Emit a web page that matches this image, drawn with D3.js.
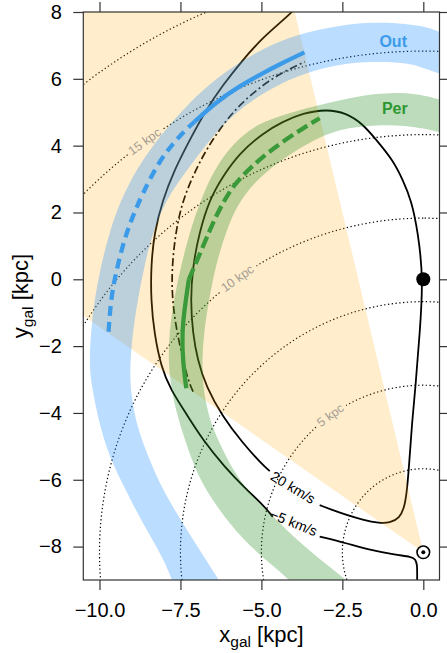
<!DOCTYPE html>
<html>
<head>
<meta charset="utf-8">
<script src="https://cdn.jsdelivr.net/npm/d3@7"></script>
<style>
  body { margin: 0; background: #fff; }
  svg text { font-family: "Liberation Sans", Arial, sans-serif; }
</style>
</head>
<body>
<svg id="chart" width="447" height="653"></svg>
<script>
// ---- data (kpc, galactic x/y) ----
var xDomain = [-10.5, 0.5];
var yDomain = [-9, 8];
var xTicks = [-10, -7.5, -5, -2.5, 0];
var yTicks = [-8, -6, -4, -2, 0, 2, 4, 6, 8];

var sunPos = [0, -8.17];
var gcPos = [0, 0];

// wedge edges, degrees from the Sun->GC direction towards -x
var wedgeAngles = [13.8, 56];

// distance rings round the Sun
var ringRadii = [2.5, 5, 7.5, 10, 12.5, 15, 17.5];
var ringLabelRadii = [5, 10, 15];
var ringLabelAngle = 35;

// Outer arm band, two edges
var outEdgeA = [[-7.55,-9.5],[-7.74,-9.05],[-8.05,-8.30],[-8.67,-7.30],[-9.19,-6.31],[-9.70,-5.31],
  [-10.01,-4.31],[-10.22,-3.31],[-10.32,-2.62],[-10.27,-1.61],[-10.16,-0.62],[-9.96,0.38],
  [-9.70,1.39],[-9.35,2.37],[-8.80,3.40],[-8.10,4.33],[-7.43,5.07],[-6.71,5.76],[-5.89,6.36],
  [-4.96,6.91],[-3.93,7.33],[-2.58,7.60],[-1.55,7.70],[-0.51,7.65],[0.11,7.55],[0.52,7.40],[0.9,7.2]];
var outEdgeB = [[0.9,6.0],[0.52,6.15],[-0.15,6.38],[-0.51,6.47],[-1.55,6.52],[-2.58,6.45],
  [-3.93,6.10],[-4.96,5.57],[-5.68,5.07],[-6.20,4.61],[-6.71,4.02],[-7.23,3.36],[-7.68,2.75],
  [-8.02,2.20],[-8.36,1.39],[-8.62,0.38],[-8.82,-0.62],[-8.98,-1.61],[-9.06,-2.62],[-9.04,-3.31],
  [-8.88,-4.31],[-8.50,-5.31],[-8.05,-6.31],[-7.43,-7.30],[-6.81,-8.25],[-6.29,-9.03],[-6.00,-9.5]];

// Perseus arm band, two edges
var perEdgeA = [[-3.65,-9.5],[-4.12,-9.00],[-4.74,-8.50],[-5.57,-7.80],[-6.39,-6.81],[-7.01,-5.81],
  [-7.36,-4.81],[-7.62,-4.01],[-7.82,-3.10],[-7.88,-2.20],[-7.82,-1.40],[-7.68,-0.50],[-7.48,0.40],
  [-7.22,1.40],[-6.90,2.30],[-6.55,3.10],[-6.10,3.80],[-5.55,4.35],[-4.96,4.72],[-3.93,5.05],
  [-2.58,5.36],[-1.55,5.56],[-0.51,5.61],[0.52,5.39],[0.9,5.25]];
var perEdgeB = [[0.9,4.3],[0.52,4.41],[-0.51,4.61],[-1.55,4.62],[-2.58,4.50],[-3.20,4.25],
  [-3.93,3.87],[-4.96,3.17],[-5.68,2.37],[-6.09,1.45],[-6.40,0.45],[-6.61,-0.55],[-6.78,-1.61],
  [-6.84,-2.62],[-6.78,-3.40],[-6.60,-4.21],[-6.30,-4.90],[-5.88,-5.71],[-5.36,-6.41],[-4.74,-7.00],
  [-4.02,-7.70],[-3.30,-8.30],[-2.37,-9.00],[-1.80,-9.5]];

// arm tracers
var blueDashed = [[-9.72,-1.57],[-9.65,-0.62],[-9.50,0.18],[-9.24,1.18],[-8.98,1.87],[-8.70,2.50],
  [-8.15,3.57],[-7.50,4.33],[-7.06,4.72]];
var blueSolid = [[-7.06,4.72],[-6.40,5.30],[-5.68,5.78],[-4.96,6.17],[-4.34,6.48],[-3.67,6.79]];
var greenSolid = [[-7.32,-3.26],[-7.43,-2.42],[-7.45,-1.62],[-7.38,-0.92],[-7.24,0.0]];
var greenDashed = [[-7.24,0.0],[-6.76,1.08],[-6.45,1.80],[-6.14,2.37],[-5.85,2.82],[-5.40,3.28],
  [-4.96,3.67],[-4.34,4.12],[-3.72,4.52],[-3.20,4.82]];
var dashDot = [[-7.11,-3.36],[-7.27,-3.01],[-7.47,-2.21],[-7.68,-1.22],[-7.78,-0.22],[-7.73,0.78],
  [-7.58,1.77],[-7.38,2.47],[-7.08,3.17],[-6.71,3.87],[-6.20,4.62],[-5.68,5.22],[-4.96,5.82],
  [-4.34,6.20],[-3.66,6.51]];

// velocity contours (split where the labels sit)
var contour20 = [[-3.20,-6.76],[-2.79,-6.91],[-2.38,-7.05],[-1.87,-7.20],[-1.35,-7.30],[-1.04,-7.29],
  [-0.73,-7.15],[-0.58,-6.81],[-0.50,-6.31],[-0.42,-5.31],[-0.35,-4.30],[-0.24,-3.21],[-0.11,-1.61],
  [0,0],[-0.16,1.39],[-0.37,2.37],[-0.63,2.97],[-0.94,3.57],[-1.45,4.17],[-1.87,4.65],[-2.38,4.98],
  [-3.00,5.09],[-3.72,4.97],[-4.34,4.72],[-4.96,4.37],[-5.68,3.77],[-6.20,3.07],[-6.61,2.37],
  [-6.92,1.39],[-7.12,0.38],[-7.19,-0.62],[-7.12,-1.61],[-6.97,-2.42],[-6.71,-3.21],[-6.20,-4.11],
  [-5.58,-4.90],[-4.96,-5.56],[-4.74,-5.74]];
var contour5a = [[-3.9,8.2],[-4.03,8.0],[-4.96,7.24],[-5.58,6.56],[-6.20,5.80],[-6.71,5.07],[-7.20,4.20],
  [-7.69,3.27],[-8.05,2.37],[-8.31,1.39],[-8.41,0.38],[-8.41,-0.62],[-8.31,-1.61],[-8.10,-2.62],
  [-7.80,-3.31],[-7.33,-4.01],[-6.81,-4.81],[-6.14,-5.61],[-5.52,-6.24],[-4.90,-6.80],[-4.65,-7.11]];
var contour5b = [[-3.20,-7.70],[-2.37,-7.90],[-1.66,-8.10],[-0.84,-8.25],[-0.37,-8.30],[-0.24,-8.38],
  [-0.19,-8.55],[-0.19,-8.8],[-0.19,-9.2]];

var contourLabels = ["20 km/s", "\u22125 km/s"];
var contourLabelPos = [[-4.02,-6.23],[-4.00,-7.28]];
var contourLabelRot = [31, 22];

var armNames = ["Out", "Per"];
var armLabelPos = [[-0.93,7.12],[-0.88,5.11]];

// ---- chart ----
var W = 447, H = 653;
var margin = {left: 83.3, right: 7.5, top: 12, bottom: 73};
var svg = d3.select("#chart");

var x = d3.scaleLinear().domain(xDomain).range([margin.left, W - margin.right]);
var y = d3.scaleLinear().domain(yDomain).range([H - margin.bottom, margin.top]);

svg.append("defs").append("clipPath").attr("id", "plotClip")
  .append("rect")
  .attr("x", x(xDomain[0])).attr("y", y(yDomain[1]))
  .attr("width", x(xDomain[1]) - x(xDomain[0]))
  .attr("height", y(yDomain[0]) - y(yDomain[1]));

var plot = svg.append("g").attr("clip-path", "url(#plotClip)");

// traced points are a bit noisy, so a B-spline through them
var smooth = d3.line().x(function(d){ return x(d[0]); }).y(function(d){ return y(d[1]); })
  .curve(d3.curveBasis);
var straight = d3.line().x(function(d){ return x(d[0]); }).y(function(d){ return y(d[1]); });

function band(a, b) {
  return smooth(a) + smooth(b).replace(/^M/, "L") + "Z";
}

// rings round the Sun, with a gap where the label goes
function ringPt(r, a) {
  var rad = a * Math.PI / 180;
  return [sunPos[0] - r * Math.sin(rad), sunPos[1] + r * Math.cos(rad)];
}
var ringG = plot.append("g");
var labelG = svg.append("g").attr("clip-path", "url(#plotClip)");

ringRadii.forEach(function(r) {
  var gap = 0;
  if (ringLabelRadii.indexOf(r) >= 0) {
    var p = ringPt(r, ringLabelAngle);
    var p1 = ringPt(r, ringLabelAngle - 0.5), p2 = ringPt(r, ringLabelAngle + 0.5);
    var ang = Math.atan2(y(p1[1]) - y(p2[1]), x(p1[0]) - x(p2[0])) * 180 / Math.PI;
    if (ang > 90) ang -= 180;
    if (ang < -90) ang += 180;
    var t = labelG.append("text")
      .attr("transform", "translate(" + x(p[0]) + "," + y(p[1]) + ") rotate(" + ang + ")")
      .attr("text-anchor", "middle")
      .attr("dominant-baseline", "central")
      .attr("font-size", 12.5)
      .attr("fill", "#a69d93")
      .text(r + " kpc");
    var len = t.node().getComputedTextLength();
    var rpx = Math.hypot(x(p[0]) - x(sunPos[0]), y(p[1]) - y(sunPos[1]));
    gap = (len / 2 + 3) / rpx * 180 / Math.PI;
  }
  var pts = d3.range(0, 360.01, 0.5).map(function(a) {
    return {p: ringPt(r, a), on: gap === 0 || Math.abs(a - ringLabelAngle) > gap};
  });
  ringG.append("path")
    .attr("d", d3.line().defined(function(d){ return d.on; })
      .x(function(d){ return x(d.p[0]); }).y(function(d){ return y(d.p[1]); })(pts))
    .attr("fill", "none")
    .attr("stroke", "#000")
    .attr("stroke-width", 1.2)
    .attr("stroke-dasharray", "1.3,2.5");
});

// velocity contours and the dash-dot track
[contour20, contour5a, contour5b].forEach(function(c) {
  plot.append("path").attr("d", smooth(c))
    .attr("fill", "none").attr("stroke", "#000").attr("stroke-width", 1.8);
});
plot.append("path").attr("d", smooth(dashDot))
  .attr("fill", "none").attr("stroke", "#000").attr("stroke-width", 1.7)
  .attr("stroke-dasharray", "8,3,2,3");

// observing wedge from the Sun
var wedge = [sunPos].concat(wedgeAngles.map(function(a){ return ringPt(40, a); }));
plot.append("path").attr("d", straight(wedge) + "Z")
  .attr("fill", "#ffa500").attr("fill-opacity", 0.2);

// arm bands
plot.append("path").attr("d", band(outEdgeA, outEdgeB))
  .attr("fill", "#1e90ff").attr("fill-opacity", 0.3);
plot.append("path").attr("d", band(perEdgeA, perEdgeB))
  .attr("fill", "#228b22").attr("fill-opacity", 0.3);

// arm tracers
var blueCol = "#3c9be9", greenCol = "#3a9a3a";
plot.append("path").attr("d", smooth(blueDashed)).attr("fill", "none")
  .attr("stroke", blueCol).attr("stroke-width", 4.3).attr("stroke-dasharray", "10,6");
plot.append("path").attr("d", smooth(blueSolid)).attr("fill", "none")
  .attr("stroke", blueCol).attr("stroke-width", 4.3);
plot.append("path").attr("d", smooth(greenSolid)).attr("fill", "none")
  .attr("stroke", greenCol).attr("stroke-width", 4.3);
plot.append("path").attr("d", smooth(greenDashed)).attr("fill", "none")
  .attr("stroke", greenCol).attr("stroke-width", 4.3).attr("stroke-dasharray", "12,5");

// contour labels
contourLabels.forEach(function(s, i) {
  svg.append("text")
    .attr("transform", "translate(" + x(contourLabelPos[i][0]) + "," + y(contourLabelPos[i][1]) +
      ") rotate(" + contourLabelRot[i] + ")")
    .attr("text-anchor", "middle").attr("dominant-baseline", "central")
    .attr("font-size", 14).attr("fill", "#000").text(s);
});

// arm names
armNames.forEach(function(s, i) {
  svg.append("text")
    .attr("x", x(armLabelPos[i][0])).attr("y", y(armLabelPos[i][1]))
    .attr("text-anchor", "middle").attr("dominant-baseline", "central")
    .attr("font-size", 16).attr("font-weight", "bold")
    .attr("fill", i === 0 ? blueCol : "#2f972f").text(s);
});

// GC and Sun markers
svg.append("circle").attr("cx", x(gcPos[0])).attr("cy", y(gcPos[1])).attr("r", 7).attr("fill", "#000");
svg.append("circle").attr("cx", x(sunPos[0])).attr("cy", y(sunPos[1])).attr("r", 6.3)
  .attr("fill", "#fff").attr("stroke", "#000").attr("stroke-width", 1.6);
svg.append("circle").attr("cx", x(sunPos[0])).attr("cy", y(sunPos[1])).attr("r", 2).attr("fill", "#000");

// frame and axes
svg.append("rect")
  .attr("x", x(xDomain[0])).attr("y", y(yDomain[1]))
  .attr("width", x(xDomain[1]) - x(xDomain[0]))
  .attr("height", y(yDomain[0]) - y(yDomain[1]))
  .attr("fill", "none").attr("stroke", "#333").attr("stroke-width", 1.2);

function styleAxis(g) {
  g.select(".domain").remove();
  g.selectAll(".tick line").attr("stroke", "#333").attr("stroke-width", 1.2);
  g.selectAll("text").attr("font-size", 20).attr("font-family", "Liberation Sans, Arial, sans-serif")
    .attr("fill", "#000");
}
svg.append("g").attr("transform", "translate(0," + y(yDomain[0]) + ")")
  .call(d3.axisBottom(x).tickValues(xTicks).tickSize(10).tickPadding(13).tickFormat(d3.format(".1f")))
  .call(styleAxis);
svg.append("g").attr("transform", "translate(0," + y(yDomain[1]) + ")")
  .call(d3.axisTop(x).tickValues(xTicks).tickSize(10).tickFormat(""))
  .call(styleAxis);
svg.append("g").attr("transform", "translate(" + x(xDomain[0]) + ",0)")
  .call(d3.axisLeft(y).tickValues(yTicks).tickSize(10).tickPadding(11.5).tickFormat(d3.format("d")))
  .call(styleAxis);
svg.append("g").attr("transform", "translate(" + x(xDomain[1]) + ",0)")
  .call(d3.axisRight(y).tickValues(yTicks).tickSize(10).tickFormat(""))
  .call(styleAxis);

// axis titles
var xl = svg.append("text")
  .attr("x", (x(xDomain[0]) + x(xDomain[1])) / 2).attr("y", 641.5)
  .attr("text-anchor", "middle").attr("font-size", 22);
xl.append("tspan").text("x");
xl.append("tspan").attr("font-size", 15.5).attr("dy", 5).text("gal");
xl.append("tspan").attr("dy", -5).text(" [kpc]");

var yl = svg.append("text")
  .attr("transform", "translate(28,"+ (y(yDomain[0]) + y(yDomain[1])) / 2 + ") rotate(-90)")
  .attr("text-anchor", "middle").attr("font-size", 22);
yl.append("tspan").text("y");
yl.append("tspan").attr("font-size", 15.5).attr("dy", 5).text("gal");
yl.append("tspan").attr("dy", -5).text(" [kpc]");
</script>
</body>
</html>
